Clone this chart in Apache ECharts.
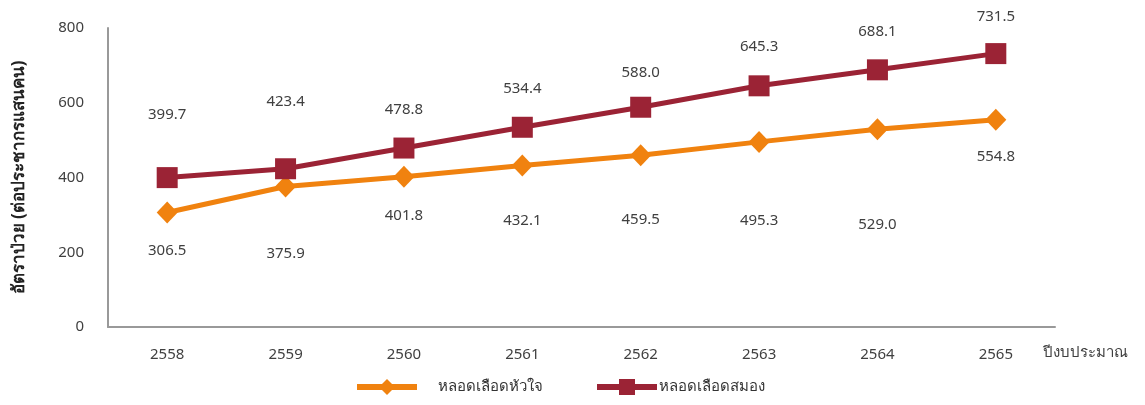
<!DOCTYPE html>
<html lang="th">
<head>
<meta charset="UTF-8">
<title>อัตราป่วย</title>
<script src="https://cdn.jsdelivr.net/npm/echarts@6/dist/echarts.min.js"></script>
<style>
  html, body { margin: 0; padding: 0; background: #fff; }
  #main { width: 1145px; height: 405px; }
</style>
</head>
<body>
<div id="main"></div>
<script>
// ข้อมูล
var years = ['2558', '2559', '2560', '2561', '2562', '2563', '2564', '2565'];
var heart = [306.5, 375.9, 401.8, 432.1, 459.5, 495.3, 529.0, 554.8];
var brain = [399.7, 423.4, 478.8, 534.4, 588.0, 645.3, 688.1, 731.5];
var heartName = 'หลอดเลือดหัวใจ';
var brainName = 'หลอดเลือดสมอง';

// ระยะป้ายตัวเลขจากจุด (px)
var heartShift = [38, 67, 39, 55, 64, 79, 95, 37];
var brainShift = [-63, -67, -38, -39, -35, -39, -38, -37];

var font = "'Noto Sans', 'DejaVu Sans', sans-serif";
var txt = '#404040';

function withLabels(values, shifts) {
    return values.map(function (v, i) {
        return {
            value: v,
            label: { offset: [0, shifts[i]] }
        };
    });
}

function legendAt(x, name, pad) {
    return {
        bottom: 5,
        left: x,
        itemWidth: 60,
        itemHeight: 20,
        lineStyle: { width: 6 },
        textStyle: { fontFamily: font, fontSize: 15, color: '#333', padding: [0, 0, 0, pad] },
        data: [name]
    };
}

var myChart = echarts.init(document.getElementById('main'));

var option = {
    animation: false,
    grid: { left: 108, right: 90, top: 28, bottom: 78 },
    legend: [legendAt(349, heartName, 16), legendAt(589, brainName, -3)],
    xAxis: {
        type: 'category',
        data: years,
        axisLine: { lineStyle: { color: '#999', width: 2 } },
        axisTick: { show: false },
        axisLabel: { margin: 20, fontFamily: font, fontSize: 15, color: txt }
    },
    yAxis: {
        type: 'value',
        min: 0,
        max: 800,
        interval: 200,
        name: 'อัตราป่วย (ต่อประชากรแสนคน)',
        nameLocation: 'middle',
        nameGap: 80,
        nameTextStyle: { fontFamily: font, fontSize: 17, fontWeight: 'bold', color: '#222' },
        axisLine: { show: true, lineStyle: { color: '#999', width: 2 } },
        axisTick: { show: false },
        splitLine: { show: false },
        axisLabel: { margin: 24, fontFamily: font, fontSize: 15, color: txt }
    },
    graphic: [{
        type: 'text',
        left: 1043,
        top: 345,
        style: { text: 'ปีงบประมาณ', font: '15px ' + font, fill: txt }
    }],
    series: [{
        name: heartName,
        type: 'line',
        data: withLabels(heart, heartShift),
        symbol: 'diamond',
        symbolSize: [21, 22],
        lineStyle: { color: '#F0820F', width: 5 },
        itemStyle: { color: '#F0820F' },
        label: {
            show: true,
            position: 'inside',
            formatter: function (p) { return p.value.toFixed(1); },
            fontFamily: font,
            fontSize: 15,
            color: txt
        },
        z: 2
    }, {
        name: brainName,
        type: 'line',
        data: withLabels(brain, brainShift),
        symbol: 'rect',
        symbolSize: 21,
        lineStyle: { color: '#9B2335', width: 5 },
        itemStyle: { color: '#9B2335' },
        label: {
            show: true,
            position: 'inside',
            formatter: function (p) { return p.value.toFixed(1); },
            fontFamily: font,
            fontSize: 15,
            color: txt
        },
        z: 3
    }]
};

myChart.setOption(option);
</script>
</body>
</html>
